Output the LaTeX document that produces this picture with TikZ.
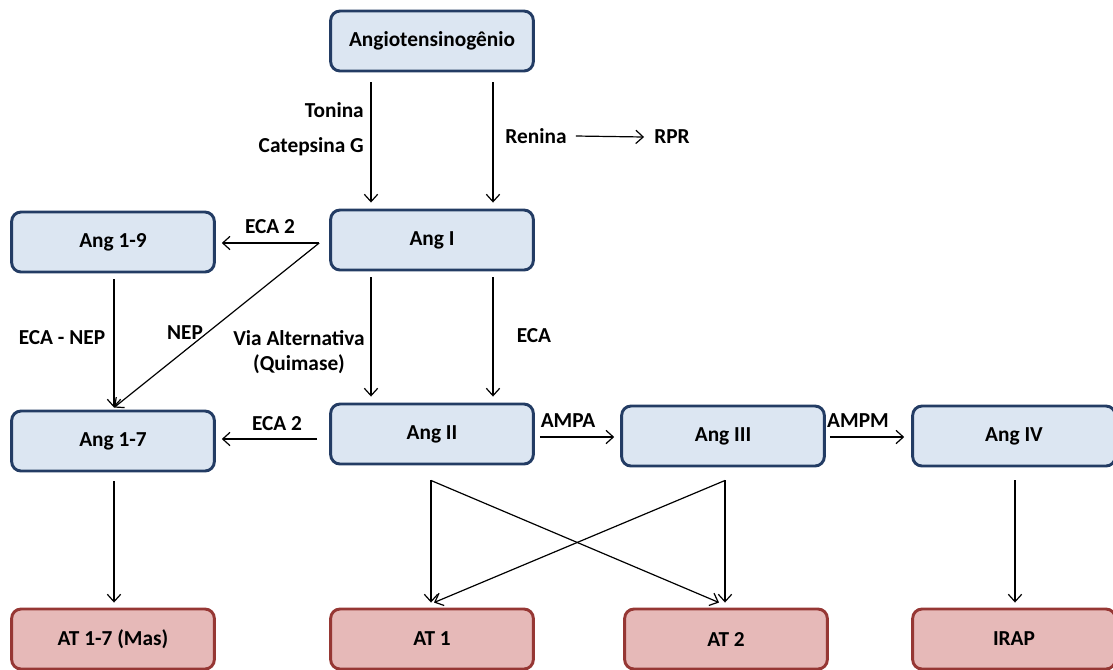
\documentclass[tikz,border=0pt]{standalone}
\usepackage{fontspec}
\setmainfont{Carlito}
\usetikzlibrary{arrows.meta,calc}
\definecolor{navy}{RGB}{35,60,100}
\definecolor{pale}{RGB}{220,230,242}
\definecolor{brick}{RGB}{150,55,52}
\definecolor{rose}{RGB}{230,185,184}

\begin{document}
\begin{tikzpicture}[
  x=0.75pt,y=-0.75pt,
  font=\fontsize{16}{19}\selectfont\bfseries,
  ang/.style={draw=navy,fill=pale,rounded corners=7pt,line width=2.2pt,
              minimum width=152pt,minimum height=45pt,inner sep=0pt},
  rec/.style={draw=brick,fill=rose,rounded corners=7pt,line width=2.2pt,
              minimum width=152pt,minimum height=45pt,inner sep=0pt},
  lbl/.style={inner sep=0pt},
  arr/.style={-{Straight Barb[length=5.5pt,width=10pt]},line width=0.9pt}]

\useasboundingbox (0,0) rectangle (1113,669);
\clip (0,0) rectangle (1113,669);

% peptides
\node[ang] (ag)  at (432,41)  {Angiotensinogênio};
\node[ang] (a1)  at (432,240) {Ang I};
\node[ang] (a19) at (113,242) {Ang 1-9};
\node[ang] (a17) at (113,441) {Ang 1-7};
\node[ang] (a2)  at (432,434) {Ang II};
\node[ang] (a3)  at (723,436) {Ang III};
\node[ang] (a4)  at (1014,436) {Ang IV};

% receptors
\node[rec] (mas)  at (113,639)  {AT 1-7 (Mas)};
\node[rec] (at1)  at (432,639)  {AT 1};
\node[rec] (at2)  at (726,639)  {AT 2};
\node[rec] (irap) at (1014,639) {IRAP};

% enzymes
\node[lbl,anchor=east] (ton) at (364,110) {Tonina};
\node[lbl,anchor=east] (cat) at (364,147) {Catepsina G};
\node[lbl] (ren) at (536,136) {Renina};
\node[lbl] (rpr) at (672,137) {RPR};
\node[lbl] (e2a) at (270,227) {ECA 2};
\node[lbl] (nep) at (185,333) {NEP};
\node[lbl] (en)  at (62,338)  {ECA - NEP};
\node[lbl,align=center] (via) at (299,352) {Via Alternativa\\(Quimase)};
\node[lbl] (eca) at (534,336) {ECA};
\node[lbl] (e2b) at (277,424) {ECA 2};
\node[lbl] (ampa) at (568,421) {AMPA};
\node[lbl] (ampm) at (858,421) {AMPM};

\draw[arr] ($(ag.south)+(-61,10)$) -- ($(a1.north)+(-61,-6)$);
\draw[arr] ($(ag.south)+(61,10)$) -- ($(a1.north)+(61,-6)$);
\draw[arr] ($(ren.east)+(9,0)$) -- ($(rpr.west)+(-10,0)$);

\draw[arr] ($(a1.west)+(-10,3)$) -- ($(a19.east)+(6,1)$);
\draw[arr] ($(a1.west)+(-10,3)$) -- ($(a17.north)+(1,-2)$);
\draw[arr] ($(a19.south)+(1,6)$) -- ($(a17.north)+(1,-2)$);
\draw[arr] ($(a1.south)+(-61,6)$) -- ($(a2.north)+(-61,-6)$);
\draw[arr] ($(a1.south)+(61,6)$) -- ($(a2.north)+(61,-6)$);

\draw[arr] ($(a2.west)+(-12,5)$) -- ($(a17.east)+(6,-2)$);
\draw[arr] ($(a2.east)+(5,3)$) -- ($(a3.west)+(-6,1)$);
\draw[arr] ($(a3.east)+(4,1)$) -- ($(a4.west)+(-7,1)$);

\draw[arr] ($(a2.south)+(-1,15)$) -- ($(at1.north)+(-1,-5)$);
\draw[arr] ($(a2.south)+(-1,15)$) -- ($(at2.north)+(-7,-5)$);
\draw[arr] ($(a3.south)+(2,13)$) -- ($(at2.north)+(-1,-5)$);
\draw[arr] ($(a3.south)+(2,13)$) -- ($(at1.north)+(2,-5)$);
\draw[arr] ($(a17.south)+(1,9)$) -- ($(mas.north)+(1,-5)$);
\draw[arr] ($(a4.south)+(1,13)$) -- ($(irap.north)+(1,-5)$);
\end{tikzpicture}
\end{document}
